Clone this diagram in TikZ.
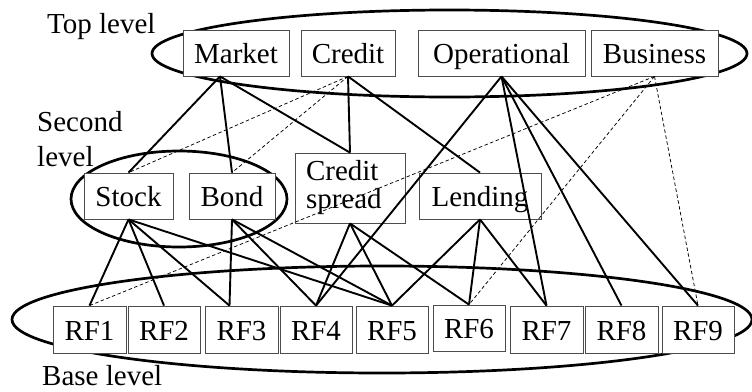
\documentclass[tikz,border=0pt]{standalone}
\usepackage{fontspec}
\setmainfont{Liberation Serif}
\begin{document}
\begin{tikzpicture}[x=1pt,y=-1pt,
  plainbox/.style={draw=black!70, line width=0.8pt, fill=white, inner sep=0pt,
    font=\fontsize{29}{28}\selectfont},
  box/.style={plainbox, minimum height=46pt, text height=21pt, text depth=0pt},
  conn/.style={line width=1.9pt},
  dconn/.style={line width=0.75pt, dash pattern=on 3.5pt off 2.5pt},
  lvl/.style={line width=2.7pt},
  lbl/.style={inner sep=0pt, font=\fontsize{29}{35}\selectfont}]
\useasboundingbox (0,0) rectangle (752,391);

% level ellipses
\draw[lvl] (449.5,53.5) ellipse [x radius=297.5, y radius=43.5];
\draw[lvl] (179,199) ellipse [x radius=108, y radius=48];
\draw[lvl] (382,319.5) ellipse [x radius=370, y radius=53.5];

% labels
\node[lbl, anchor=base west] (ltop) at (47,33) {Top level};
\node[lbl, anchor=north west, align=left] (lsec) at (37,111) {Second\\level};
\node[lbl, anchor=base west] (lbase) at (42,385) {Base level};

% top level
\node[box, minimum width=106pt] (market) at (236,53) {Market};
\node[box, minimum width=94pt] (credit) at (348,53) {Credit};
\node[box, minimum width=167pt] (oper) at (501.5,53) {Operational};
\node[box, minimum width=127pt] (busi) at (654.5,53) {Business};

% second level
\node[box, minimum width=89pt] (stock) at (128.5,196) {Stock};
\node[box, minimum width=86pt] (bond) at (232,196) {Bond};
\node[plainbox, minimum height=70pt, text width=88pt, inner xsep=11pt, align=left] (cspread) at (350,188) {Credit\\spread};
\node[box, minimum width=122pt] (lending) at (480,196) {Lending};

% base level
\node[box, minimum width=73pt, minimum height=47pt] (rf1) at (89.5,329.5) {RF1};
\node[box, minimum width=72pt, minimum height=47pt] (rf2) at (164,329.5) {RF2};
\node[box, minimum width=73pt, minimum height=47pt] (rf3) at (241.5,329.5) {RF3};
\node[box, minimum width=72pt, minimum height=47pt] (rf4) at (316,329.5) {RF4};
\node[box, minimum width=72pt, minimum height=47pt] (rf5) at (392,329.5) {RF5};
\node[box, minimum width=72pt, minimum height=46pt] (rf6) at (469,328) {RF6};
\node[box, minimum width=73pt, minimum height=47pt] (rf7) at (546.5,329.5) {RF7};
\node[box, minimum width=73pt, minimum height=47pt] (rf8) at (621.5,329.5) {RF8};
\node[box, minimum width=72pt, minimum height=47pt] (rf9) at (698,329.5) {RF9};

% solid connectors
\draw[conn] ([xshift=-16pt]market.south) -- (stock.north);
\draw[conn] ([xshift=-16pt]market.south) -- (bond.north);
\draw[conn] ([xshift=-16pt]market.south) -- (cspread.north);
\draw[conn] (credit.south) -- (cspread.north);
\draw[conn] (credit.south) -- (lending.north);
\draw[conn] (oper.south) -- (rf4.north);
\draw[conn] (oper.south) -- (rf7.north);
\draw[conn] (oper.south) -- (rf8.north);
\draw[conn] (oper.south) -- (rf9.north);
\draw[conn] (stock.south) -- (rf1.north);
\draw[conn] (stock.south) -- (rf2.north);
\draw[conn] (stock.south) -- ([xshift=-12pt]rf3.north);
\draw[conn] (stock.south) -- (rf5.north);
\draw[conn] (bond.south) -- ([xshift=-12pt]rf3.north);
\draw[conn] (bond.south) -- (rf4.north);
\draw[conn] (bond.south) -- (rf5.north);
\draw[conn] (cspread.south) -- (rf4.north);
\draw[conn] (cspread.south) -- (rf5.north);
\draw[conn] (cspread.south) -- (rf6.north);
\draw[conn] (lending.south) -- (rf5.north);
\draw[conn] (lending.south) -- (rf6.north);
\draw[conn] (lending.south) -- (rf7.north);

% dashed connectors
\draw[dconn] (credit.south) -- (stock.north);
\draw[dconn] (credit.south) -- (bond.north);
\draw[dconn] (busi.south) -- (rf1.north);
\draw[dconn] (busi.south) -- (rf6.north);
\draw[dconn] (busi.south) -- (rf9.north);
\end{tikzpicture}
\end{document}
